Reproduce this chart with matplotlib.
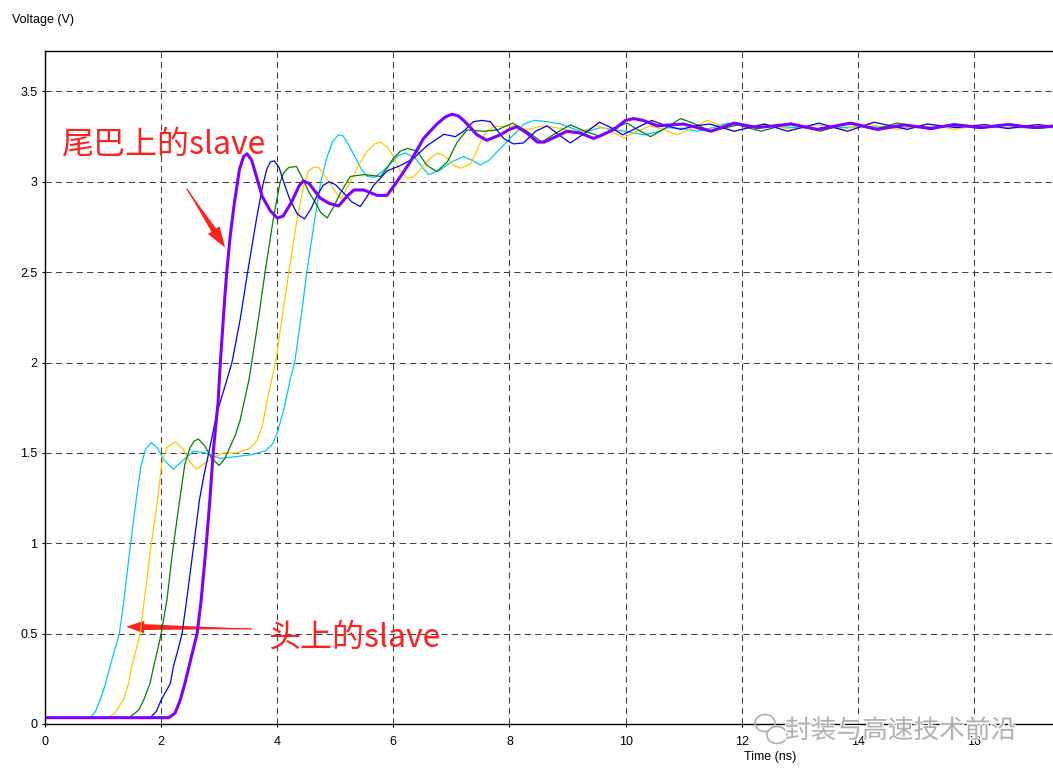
import matplotlib
matplotlib.use("Agg")
import matplotlib.pyplot as plt
import matplotlib.patheffects as pe
from matplotlib.patches import FancyArrowPatch, Ellipse

# waveforms (time in ns, voltage in V)
t_cyan = [0, 0.78, 0.87, 0.95, 1.04, 1.12, 1.2, 1.28, 1.36, 1.46, 1.57, 1.65, 1.73, 1.83, 1.93, 2.05,
          2.21, 2.38, 2.56, 2.75, 3.02, 3.3, 3.55, 3.79, 3.92, 4.0, 4.12, 4.22, 4.30, 4.41, 4.51, 4.63,
          4.75, 4.85, 4.95, 5.05, 5.13, 5.22, 5.32, 5.45, 5.55, 5.68, 5.82, 5.95, 6.08, 6.21, 6.38, 6.5, 6.61,
          6.81, 7.0, 7.21, 7.35, 7.5, 7.65, 7.79, 8.07, 8.25, 8.42, 8.6, 8.88, 9.05, 9.22, 9.4, 9.57, 9.9, 10.32,
          10.52, 10.72, 11.0, 11.24, 11.5, 11.75, 12.1, 12.6, 13.36, 14.05, 14.8, 15.66, 16.5, 17.4]
v_cyan = [0.035, 0.035, 0.07, 0.133, 0.22, 0.317, 0.41, 0.5, 0.686, 0.96, 1.24, 1.42, 1.52, 1.557, 1.53, 1.46,
          1.41, 1.46, 1.51, 1.50, 1.47, 1.48, 1.49, 1.51, 1.55, 1.61, 1.75, 1.90, 2.0, 2.25, 2.5, 2.76,
          3.0, 3.13, 3.22, 3.26, 3.255, 3.21, 3.15, 3.07, 3.03, 3.025, 3.06, 3.10, 3.145, 3.16, 3.13, 3.08, 3.04,
          3.066, 3.11, 3.14, 3.12, 3.094, 3.12, 3.167, 3.26, 3.32, 3.34, 3.335, 3.32, 3.30, 3.28, 3.285, 3.30, 3.285, 3.26,
          3.275, 3.30, 3.295, 3.28, 3.30, 3.325, 3.31, 3.305, 3.295, 3.305, 3.30, 3.305, 3.30, 3.30]

t_yellow = [0, 1.09, 1.2, 1.3, 1.35, 1.44, 1.49, 1.57, 1.64, 1.71, 1.82, 1.94, 2.01, 2.1, 2.25, 2.38, 2.5,
            2.61, 2.78, 3.07, 3.30, 3.53, 3.65, 3.74, 3.82, 3.90, 3.97, 4.08, 4.20, 4.34, 4.47, 4.54, 4.62,
            4.71, 4.81, 4.91, 5.03, 5.1, 5.26, 5.4, 5.55, 5.68, 5.78, 5.9, 6.0, 6.12, 6.24, 6.35, 6.47, 6.6,
            6.75, 6.9, 7.05, 7.16, 7.33, 7.42, 7.5, 7.6, 7.73, 8.07, 8.3, 8.6, 8.9, 9.11, 9.35, 9.5, 9.7,
            9.97, 10.2, 10.43, 10.65, 10.89, 11.15, 11.41, 11.65, 11.87, 12.1, 12.39, 12.85, 13.3, 13.75,
            14.16, 14.68, 15.2, 15.66, 16.18, 16.58, 17.04, 17.4]
v_yellow = [0.035, 0.035, 0.06, 0.11, 0.133, 0.225, 0.317, 0.41, 0.5, 0.686, 0.97, 1.24, 1.44, 1.53, 1.56, 1.52, 1.45,
            1.41, 1.45, 1.50, 1.50, 1.525, 1.57, 1.645, 1.78, 1.90, 2.0, 2.24, 2.5, 2.79, 3.0, 3.06, 3.08,
            3.08, 3.04, 2.99, 2.93, 2.905, 3.0, 3.09, 3.17, 3.21, 3.22, 3.19, 3.14, 3.06, 3.02, 3.03, 3.07, 3.12,
            3.16, 3.14, 3.09, 3.075, 3.10, 3.16, 3.22, 3.28, 3.305, 3.31, 3.29, 3.31, 3.295, 3.27, 3.29, 3.31, 3.29,
            3.243, 3.28, 3.31, 3.29, 3.26, 3.30, 3.34, 3.31, 3.28, 3.30, 3.32, 3.29, 3.315, 3.29,
            3.32, 3.29, 3.32, 3.29, 3.317, 3.295, 3.317, 3.30]

t_green = [0, 1.44, 1.55, 1.62, 1.70, 1.81, 1.87, 1.94, 2.0, 2.1, 2.2, 2.32, 2.41, 2.5, 2.57, 2.64, 2.75, 2.87,
           3.0, 3.1, 3.19, 3.28, 3.36, 3.51, 3.56, 3.68, 3.79, 3.93, 4.05, 4.11, 4.2, 4.33, 4.45, 4.55, 4.63,
           4.75, 4.86, 4.97, 5.09, 5.26, 5.49, 5.78, 5.9, 6.0, 6.12, 6.24, 6.41, 6.58, 6.75, 6.93, 7.10, 7.27,
           7.56, 7.79, 8.05, 8.30, 8.56, 8.8, 9.05, 9.3, 9.57, 9.8, 10.03, 10.2, 10.43, 10.7, 10.95, 11.2,
           11.47, 11.93, 12.33, 12.85, 13.36, 13.82, 14.28, 14.68, 15.26, 15.66, 16.12, 16.64, 17.1, 17.4]
v_green = [0.035, 0.035, 0.06, 0.08, 0.133, 0.225, 0.317, 0.41, 0.5, 0.686, 0.96, 1.24, 1.44, 1.53, 1.565, 1.577, 1.54, 1.47,
           1.43, 1.47, 1.535, 1.6, 1.68, 1.90, 2.0, 2.25, 2.5, 2.79, 3.0, 3.05, 3.08, 3.085, 3.01, 2.94, 2.90,
           2.83, 2.80, 2.86, 2.94, 3.03, 3.04, 3.03, 3.08, 3.13, 3.17, 3.185, 3.17, 3.09, 3.057, 3.11, 3.22, 3.287,
           3.28, 3.287, 3.325, 3.28, 3.22, 3.27, 3.315, 3.28, 3.25, 3.30, 3.325, 3.29, 3.25, 3.30, 3.35, 3.32,
           3.28, 3.315, 3.28, 3.325, 3.28, 3.325, 3.29, 3.325, 3.29, 3.32, 3.295, 3.32, 3.295, 3.305]

t_blue = [0, 1.81, 1.92, 2.0, 2.1, 2.16, 2.21, 2.29, 2.36, 2.44, 2.55, 2.66, 2.74, 2.82, 2.96, 3.11, 3.22,
          3.36, 3.49, 3.64, 3.75, 3.82, 3.88, 3.95, 4.03, 4.12, 4.22, 4.35, 4.47, 4.58, 4.68, 4.79, 4.89,
          5.0, 5.14, 5.28, 5.43, 5.55, 5.66, 5.89, 6.12, 6.35, 6.58, 6.87, 7.07, 7.21, 7.38, 7.52, 7.67, 7.9,
          8.07, 8.24, 8.45, 8.65, 8.85, 9.05, 9.3, 9.55, 9.75, 9.95, 10.2, 10.45, 10.7, 10.95, 11.2, 11.45, 11.87,
          12.39, 12.79, 13.33, 13.82, 14.28, 14.85, 15.2, 15.7, 16.18, 16.58, 17.1, 17.4]
v_blue = [0.035, 0.035, 0.07, 0.133, 0.19, 0.225, 0.317, 0.41, 0.5, 0.686, 0.96, 1.24, 1.38, 1.5, 1.72, 1.88, 2.0,
          2.236, 2.5, 2.79, 2.98, 3.07, 3.11, 3.116, 3.08, 2.99, 2.90, 2.82, 2.795, 2.85, 2.92, 2.98, 3.0,
          2.985, 2.94, 2.89, 2.863, 2.92, 2.98, 3.06, 3.09, 3.13, 3.20, 3.263, 3.25, 3.28, 3.333, 3.34, 3.333, 3.24,
          3.21, 3.215, 3.28, 3.31, 3.26, 3.215, 3.27, 3.33, 3.30, 3.26, 3.30, 3.34, 3.31, 3.29, 3.31, 3.32, 3.28,
          3.32, 3.28, 3.325, 3.28, 3.33, 3.29, 3.32, 3.30, 3.317, 3.295, 3.317, 3.305]

t_purple = [0, 2.13, 2.24, 2.33, 2.41, 2.48, 2.55, 2.62, 2.69, 2.78, 2.84, 2.90, 2.98, 3.02, 3.09, 3.13, 3.19,
            3.26, 3.35, 3.42, 3.48, 3.56, 3.65, 3.74, 3.88, 4.0, 4.1, 4.25, 4.38, 4.45, 4.55, 4.74, 4.9,
            5.06, 5.2, 5.32, 5.49, 5.72, 5.89, 6.06, 6.29, 6.52, 6.75, 6.9, 7.01, 7.12, 7.21, 7.33, 7.44,
            7.61, 7.84, 8.0, 8.13, 8.3, 8.48, 8.6, 8.8, 8.99, 9.22, 9.45, 9.6, 9.8, 10.0, 10.14, 10.3, 10.55,
            11.0, 11.47, 11.87, 12.27, 12.85, 13.3, 13.88, 14.34, 14.8, 15.26, 15.66, 16.12, 16.58, 17.04, 17.4]
v_purple = [0.035, 0.035, 0.06, 0.133, 0.225, 0.317, 0.41, 0.5, 0.686, 1.0, 1.24, 1.516, 1.775, 2.0, 2.33, 2.5, 2.70,
            2.88, 3.07, 3.14, 3.155, 3.12, 3.02, 2.92, 2.84, 2.80, 2.81, 2.89, 2.98, 3.005, 2.99, 2.91, 2.88,
            2.867, 2.92, 2.955, 2.955, 2.925, 2.925, 3.0, 3.11, 3.24, 3.32, 3.36, 3.374, 3.365, 3.34, 3.30, 3.26,
            3.23, 3.26, 3.29, 3.305, 3.27, 3.22, 3.22, 3.25, 3.28, 3.27, 3.24, 3.26, 3.29, 3.34, 3.35, 3.34, 3.31,
            3.32, 3.28, 3.325, 3.30, 3.32, 3.29, 3.325, 3.29, 3.315, 3.295, 3.317, 3.30, 3.317, 3.30, 3.31]

x_ticks = [0, 2, 4, 6, 8, 10, 12, 14, 16]
y_ticks = [0, 0.5, 1, 1.5, 2, 2.5, 3, 3.5]

plt.rcParams['font.family'] = ['Liberation Sans', 'DejaVu Sans']

W, H = 1053, 777
fig = plt.figure(figsize=(W / 100, H / 100), dpi=100)
ax = fig.add_axes([45 / W, (H - 724) / H, 1.0 - 45 / W + 0.001, (724 - 51) / H])

style = dict(solid_joinstyle='round', solid_capstyle='round')
ax.plot(t_cyan, v_cyan, color='#00C8F8', lw=0.9, **style)
ax.plot(t_yellow, v_yellow, color='#FFC800', lw=0.9, **style)
ax.plot(t_green, v_green, color='#008000', lw=0.9, **style)
ax.plot(t_blue, v_blue, color='#0000FF', lw=0.9, **style)
ax.plot(t_purple, v_purple, color='#8000FF', lw=2.2, **style)

ax.set_xlim(0, 17.38)
ax.set_ylim(0, 3.724)
ax.set_xticks(x_ticks)
ax.set_yticks(y_ticks)
ax.set_yticklabels(['%g' % v for v in y_ticks])
ax.tick_params(direction='out', length=2.5, width=0.8, labelsize=9, colors='black')
ax.tick_params(axis='x', pad=6)
ax.tick_params(axis='y', pad=3)
ax.grid(True, color='#404040', linestyle=(0, (6, 4)), linewidth=0.75)
ax.spines['right'].set_visible(False)
for s in ['left', 'top', 'bottom']:
    ax.spines[s].set_linewidth(1.0)

fig.text(12 / W, 1 - 20 / H, 'Voltage (V)', fontsize=9, va='center', ha='left')
fig.text(770 / W, 1 - 757 / H, 'Time (ns)', fontsize=9, va='center', ha='center')

# red annotations
cjk = ['Noto Sans CJK SC', 'DejaVu Sans']
red = '#FF2020'
ax.text(0.29, 3.205, '尾巴上的slave', color=red, fontsize=23, family=cjk, va='center', ha='left')
ax.text(3.84, 0.48, '头上的slave', color=red, fontsize=23, family=cjk, va='center', ha='left')

# tapered arrow: wedge (wide end near the head) plus a simple head
for tail, tip, hl, hw, tw in [((2.443, 2.961), (3.103, 2.636), 15, 10, 5),
                              ((3.564, 0.526), (1.397, 0.538), 13, 9, 4.5)]:
    ax.add_patch(FancyArrowPatch(tip, tail, mutation_scale=1,
                                 arrowstyle='wedge,tail_width=%g,shrink_factor=0.5' % tw,
                                 color=red, lw=0, shrinkA=8, shrinkB=0))
    ax.add_patch(FancyArrowPatch(tail, tip, mutation_scale=1,
                                 arrowstyle='simple,head_length=%g,head_width=%g,tail_width=1' % (hl, hw),
                                 color=red, lw=0, shrinkA=0, shrinkB=0))

# watermark
wm = fig.text(785 / W, 1 - 731 / H, '封装与高速技术前沿', fontsize=18.5, color='#A8A8A8',
              family=cjk, va='center', ha='left', alpha=0.9)
wm.set_path_effects([pe.withStroke(linewidth=2, foreground='white')])
fig.patches.append(Ellipse((765 / W, 1 - 723 / H), 20 / W, 17 / H, transform=fig.transFigure,
                           fill=False, ec='#B0B0B0', lw=1.2, figure=fig))
fig.patches.append(Ellipse((777 / W, 1 - 735 / H), 20 / W, 17 / H, transform=fig.transFigure,
                           fc='white', ec='#B0B0B0', lw=1.2, figure=fig))

fig.savefig('out.png', dpi=100)
